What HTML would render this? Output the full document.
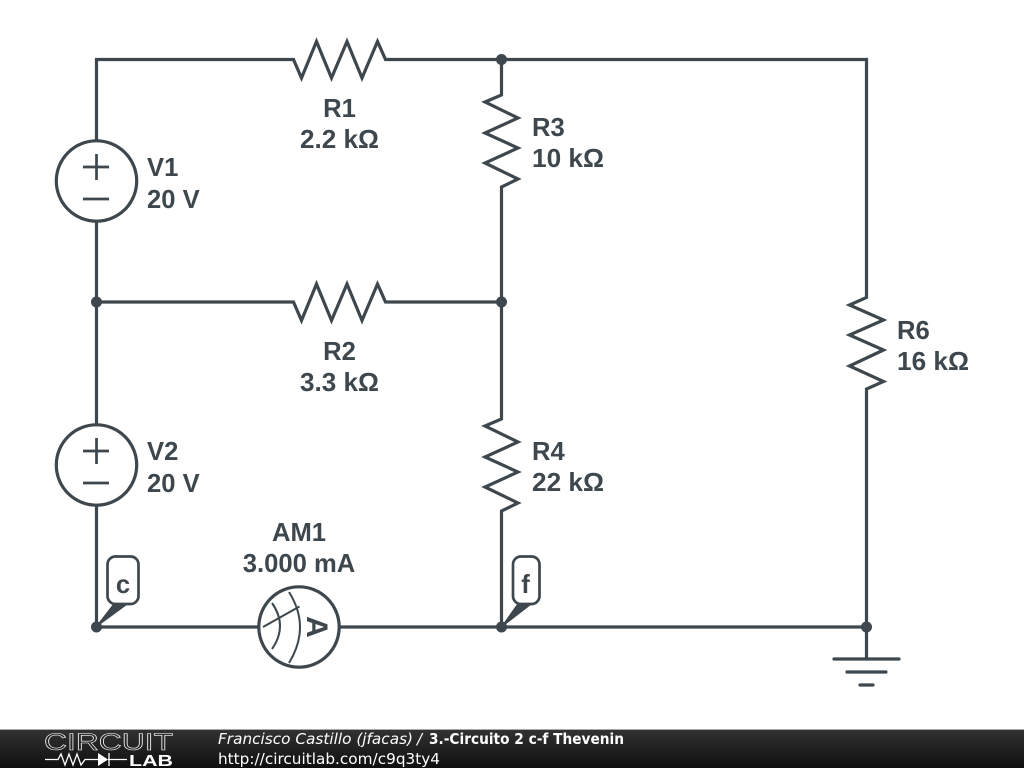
<!DOCTYPE html>
<html>
<head>
<meta charset="utf-8">
<style>
html,body{margin:0;padding:0;background:#fff;width:1024px;height:768px;overflow:hidden}
svg{display:block}
.l{font-family:"Liberation Sans",sans-serif;font-weight:bold;font-size:25.6px;fill:#3d474d}
.f{font-family:"DejaVu Sans",sans-serif;font-size:15px;fill:#fff}
</style>
</head>
<body>
<svg width="1024" height="768" viewBox="0 0 1024 768" xmlns="http://www.w3.org/2000/svg">
<defs>
<linearGradient id="g" x1="0" y1="0" x2="0" y2="1"><stop offset="0" stop-color="#333"/><stop offset="1" stop-color="#0f0f0f"/></linearGradient>
</defs>
<rect width="1024" height="768" fill="#fff"/>
<g fill="none" stroke="#3d474d" stroke-width="3.2" stroke-linejoin="miter" stroke-linecap="butt">
<!-- wires -->
<path d="M96.500 140V59.500H293.500L301.500 78 316.500 41.500 331.500 78 347 41.500 362 78 377.500 41.500 385.500 59.500H866.500V297.500L849.500 305 883.500 320 849.500 335 883.500 350 849.500 366 883.500 381.500 866.500 389V627"/>
<path d="M501.500 59.500V95L485 102 518 118 485 133 518 148 485 163 518 179 501.500 187V419L485 426 518 442 485 457 518 472 485 487 518 503 501.500 511V627"/>
<path d="M96.500 222V424M96.500 506V627H258M340 627H866.500M866.500 627V659"/>
<path d="M96.500 302H293.500L301.500 320.500 316.500 284 331.500 320.500 347 284 362 320.500 377.500 284 385.500 302H501.500"/>
<!-- sources -->
<circle cx="96.500" cy="181" r="40.200"/>
<path d="M83 167H109M96.500 154V180M83 199H109" stroke-width="2.700"/>
<circle cx="96.500" cy="465" r="40.200"/>
<path d="M83 451H109M96.500 438V464M83 483H109" stroke-width="2.700"/>
<!-- ammeter -->
<circle cx="299" cy="627" r="40.200"/>
<g stroke-width="2">
<path d="M263 627L299.500 606.500"/>
<path d="M272 603Q288 626 272 649"/>
<path d="M289 592Q311 627 289 663"/>
</g>
<!-- ground -->
<path d="M834 659H899M847 672H886M860 685H873" stroke-linecap="round"/>
<!-- probes -->
<rect x="107.500" y="556.500" width="31" height="47.500" rx="8" fill="#fff" stroke-width="2.700"/>
<rect x="513" y="556.500" width="26.500" height="47.500" rx="8" fill="#fff" stroke-width="2.700"/>
</g>
<path d="M96 627L113 605H126Z" fill="#3d474d" stroke="#3d474d" stroke-width="1"/>
<path d="M501.500 627L517 605H530Z" fill="#3d474d" stroke="#3d474d" stroke-width="1"/>
<g fill="#3d474d">
<circle cx="501.500" cy="59.500" r="5.500"/>
<circle cx="96.500" cy="302" r="5.500"/>
<circle cx="501.500" cy="302" r="5.500"/>
<circle cx="96.500" cy="627" r="5.500"/>
<circle cx="501.500" cy="627" r="5.500"/>
<circle cx="866.500" cy="627" r="5.500"/>
</g>
<text class="l" x="339.500" y="117" text-anchor="middle">R1</text>
<text class="l" x="339.500" y="148" text-anchor="middle" textLength="79" lengthAdjust="spacingAndGlyphs">2.2 kΩ</text>
<text class="l" x="339.500" y="360" text-anchor="middle">R2</text>
<text class="l" x="339.500" y="391" text-anchor="middle" textLength="79" lengthAdjust="spacingAndGlyphs">3.3 kΩ</text>
<text class="l" x="532" y="136">R3</text>
<text class="l" x="532" y="167" textLength="72" lengthAdjust="spacingAndGlyphs">10 kΩ</text>
<text class="l" x="532" y="460">R4</text>
<text class="l" x="532" y="491" textLength="72" lengthAdjust="spacingAndGlyphs">22 kΩ</text>
<text class="l" x="897" y="339">R6</text>
<text class="l" x="897" y="370" textLength="72" lengthAdjust="spacingAndGlyphs">16 kΩ</text>
<text class="l" x="147" y="176">V1</text>
<text class="l" x="147" y="208">20 V</text>
<text class="l" x="147" y="460">V2</text>
<text class="l" x="147" y="492">20 V</text>
<text class="l" x="299" y="541" text-anchor="middle">AM1</text>
<text class="l" x="299" y="572" text-anchor="middle">3.000 mA</text>
<text class="l" x="123" y="593" text-anchor="middle">c</text>
<text class="l" x="525.500" y="593" text-anchor="middle">f</text>
<text class="l" style="font-size:30px" transform="translate(307 627) rotate(90)" text-anchor="middle">A</text>
<!-- footer -->
<rect x="0" y="729" width="1024" height="39" fill="url(#g)"/>
<rect x="0" y="729" width="1024" height="1" fill="#aaa"/>
<text x="44" y="750" font-family="Liberation Sans,sans-serif" font-size="24" fill="none" stroke="#fff" stroke-width="0.6" textLength="129" lengthAdjust="spacingAndGlyphs">CIRCUIT</text>
<path d="M45 759.500H58L61 754 65 765 69 754 73 765 77 754 81 765 85 759.500H98M108 759.500H127M109 753V766" fill="none" stroke="#fff" stroke-width="1.300"/>
<path d="M98 753L108 759.500 98 766Z" fill="#fff"/>
<text x="129" y="766" font-family="Liberation Sans,sans-serif" font-weight="bold" font-size="16" fill="#fff" textLength="44" lengthAdjust="spacingAndGlyphs">LAB</text>
<text class="f" x="218" y="744" font-style="italic" textLength="195" lengthAdjust="spacingAndGlyphs">Francisco Castillo (jfacas)</text>
<text class="f" x="417" y="744" font-style="italic">/</text>
<text class="f" x="429" y="744" font-weight="bold" textLength="195" lengthAdjust="spacingAndGlyphs">3.-Circuito 2 c-f Thevenin</text>
<text class="f" x="218" y="764" textLength="222" lengthAdjust="spacingAndGlyphs">http://circuitlab.com/c9q3ty4</text>
</svg>
</body>
</html>
